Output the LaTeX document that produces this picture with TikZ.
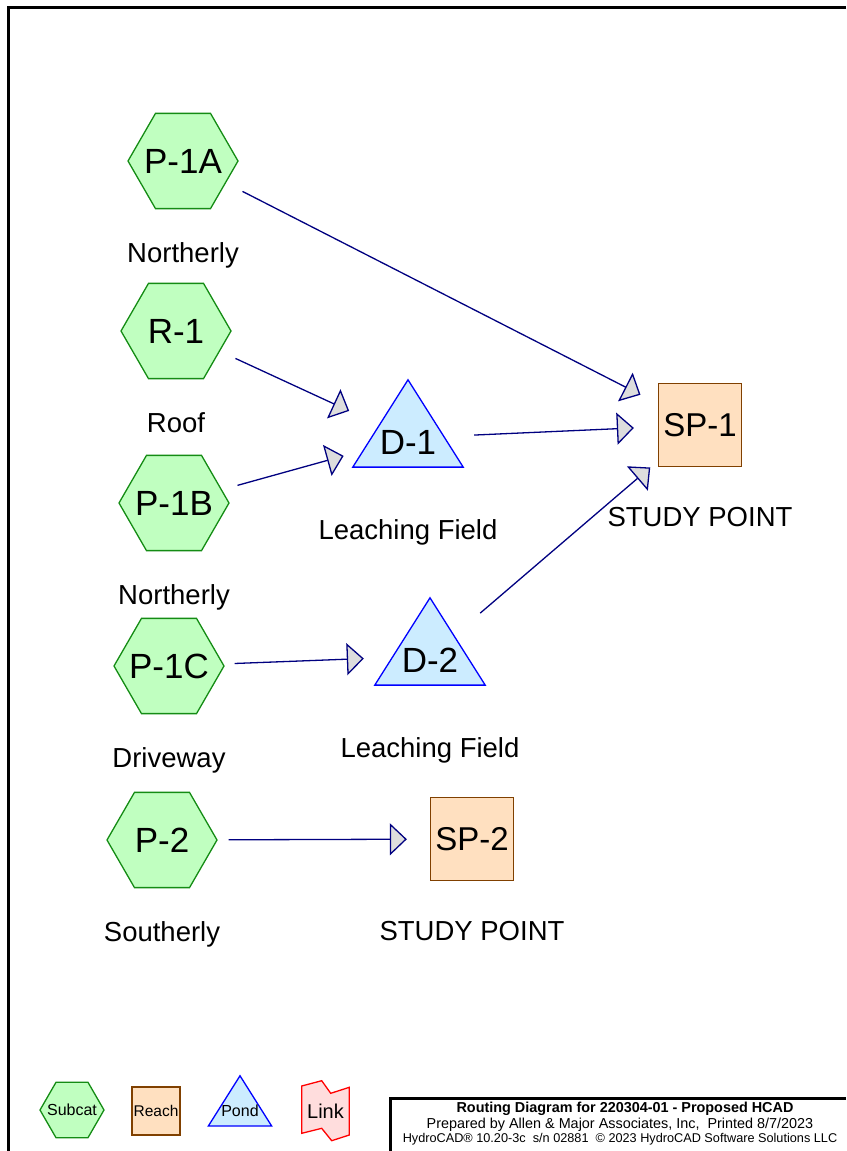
\documentclass[tikz,border=0pt]{standalone}
\usepackage{fontspec}
\setmainfont{Liberation Sans}
\usepackage{xcolor}
\usepackage{tikz}
\usetikzlibrary{
	arrows.meta,
	calc,
	backgrounds,
	shapes.geometric
}

\definecolor{subfill}{RGB}{192,255,192}
\definecolor{subline}{RGB}{20,140,20}
\definecolor{reachfill}{RGB}{255,224,192}
\definecolor{reachline}{RGB}{128,64,0}
\definecolor{pondfill}{RGB}{204,236,255}
\definecolor{pondline}{RGB}{0,0,255}
\definecolor{linkfill}{RGB}{255,221,221}
\definecolor{linkline}{RGB}{255,0,0}
\definecolor{flowline}{RGB}{0,0,128}
\definecolor{headfill}{RGB}{221,221,221}

\tikzset{
	subcat/.style={regular polygon, regular polygon sides=6, minimum size=110pt, inner sep=-15pt,
		draw=subline, fill=subfill, line width=1.3pt, font=\fontsize{35}{35}\selectfont},
	reach/.style={rectangle, minimum size=83pt, inner sep=0pt,
		draw=reachline, fill=reachfill, line width=1.3pt, font=\fontsize{33}{33}\selectfont},
	pond/.style={rectangle, minimum width=110pt, minimum height=116pt, inner sep=0pt,
		text height=32pt, font=\fontsize{35}{35}\selectfont},
	pondshape/.style={draw=pondline, fill=pondfill, line width=1.3pt},
	caption/.style={anchor=base, font=\fontsize{27.5}{27.5}\selectfont},
	flow/.style={draw=flowline, line width=1.3pt, -{Triangle[length=17pt, width=32pt, fill=headfill]}}
}

\begin{document}
\begin{tikzpicture}[x=1pt, y=-1pt]
	\useasboundingbox (0,0) rectangle (846,1151);
	\draw[line width=3pt] (846,7) -- (8.5,7) -- (8.5,1151);
	\draw[line width=3pt] (390,1151) -- (390,1098.5) -- (846,1098.5);
	
	% subcatchments
	\node[subcat] (p1a) at (183,161) {P-1A};
	\node[subcat] (r1) at (176,331) {R-1};
	\node[subcat] (p1b) at (174,503) {P-1B};
	\node[subcat] (p1c) at (169,666) {P-1C};
	\node[subcat] (p2) at (162,840) {P-2};
	\node[caption] (p1a-txt) at (183,262) {Northerly};
	\node[caption] (r1-txt) at (176,432) {Roof};
	\node[caption] (p1b-txt) at (174,604) {Northerly};
	\node[caption] (p1c-txt) at (169,767) {Driveway};
	\node[caption] (p2-txt) at (162,941) {Southerly};
	
	% ponds and reaches
	\node[pond] (d1) at (408,438) {D-1};
	\node[pond] (d2) at (430,656) {D-2};
	\node[reach] (sp1) at (700,425) {SP-1};
	\node[reach] (sp2) at (472,839) {SP-2};
	\node[caption] (d1-txt) at (408,539) {Leaching Field};
	\node[caption] (d2-txt) at (430,757) {Leaching Field};
	\node[caption] (sp1-txt) at (700,526) {STUDY POINT};
	\node[caption] (sp2-txt) at (472,940) {STUDY POINT};
	
	\draw[flow, shorten <=18.5pt, shorten >=19.5pt] (p1a) -- (sp1);
	\draw[flow, shorten <=17pt, shorten >=4pt] (r1) -- (d1);
	\draw[flow, shorten <=16pt, shorten >=9.5pt] (p1b) -- (d1);
	\draw[flow, shorten <=11pt, shorten >=24pt] (d1) -- (sp1);
	\draw[flow, shorten <=11pt, shorten >=11pt] (p1c) -- (d2);
	\draw[flow, shorten <=-6.5pt, shorten >=10pt] (d2) -- (sp1);
	\draw[flow, shorten <=11pt, shorten >=23pt] (p2) -- (sp2);
	
	% legend
	\node[subcat, minimum size=64pt, font=\fontsize{16}{16}\selectfont] (lsub) at (72,1110) {Subcat};
	\node[reach, minimum size=48pt, font=\fontsize{15.5}{15.5}\selectfont] (lreach) at (156,1111) {Reach};
	\node[pond, minimum width=63pt, minimum height=66.7pt, text height=15pt,
		font=\fontsize{16}{16}\selectfont] (lpond) at (240,1109.3) {Pond};
	\node[font=\fontsize{20}{20}\selectfont] (llink) at (325.5,1111) {Link};
	
	% title block
	\node[anchor=base, font=\fontsize{14.4}{16}\selectfont\bfseries] (title1) at (625,1112.5)
		{Routing Diagram for 220304-01 - Proposed HCAD};
	\node[anchor=base, font=\fontsize{14.4}{16}\selectfont] (title2) at (620,1128.5)
		{Prepared by Allen \& Major Associates, Inc,\ \ Printed 8/7/2023};
	\node[anchor=base, font=\fontsize{12.7}{14}\selectfont] (title3) at (620,1142)
		{HydroCAD® 10.20-3c\ \ s/n 02881\ \ © 2023 HydroCAD Software Solutions LLC};
	
	\begin{scope}[on background layer]
		\foreach \n in {d1,d2,lpond}
			\draw[pondshape] (\n.north) -- ($(\n.north east)!.75!(\n.south east)$)
				-- ($(\n.north west)!.75!(\n.south west)$) -- cycle;
		\draw[draw=linkline, fill=linkfill, line width=1.3pt] (301.7,1086) -- (321.7,1080.7)
			-- (330.7,1093.3) -- (349.3,1087.3) -- (349.3,1135) -- (331.7,1140.7)
			-- (321.7,1128.3) -- (301.7,1133.3) -- cycle;
	\end{scope}
\end{tikzpicture}
\end{document}
